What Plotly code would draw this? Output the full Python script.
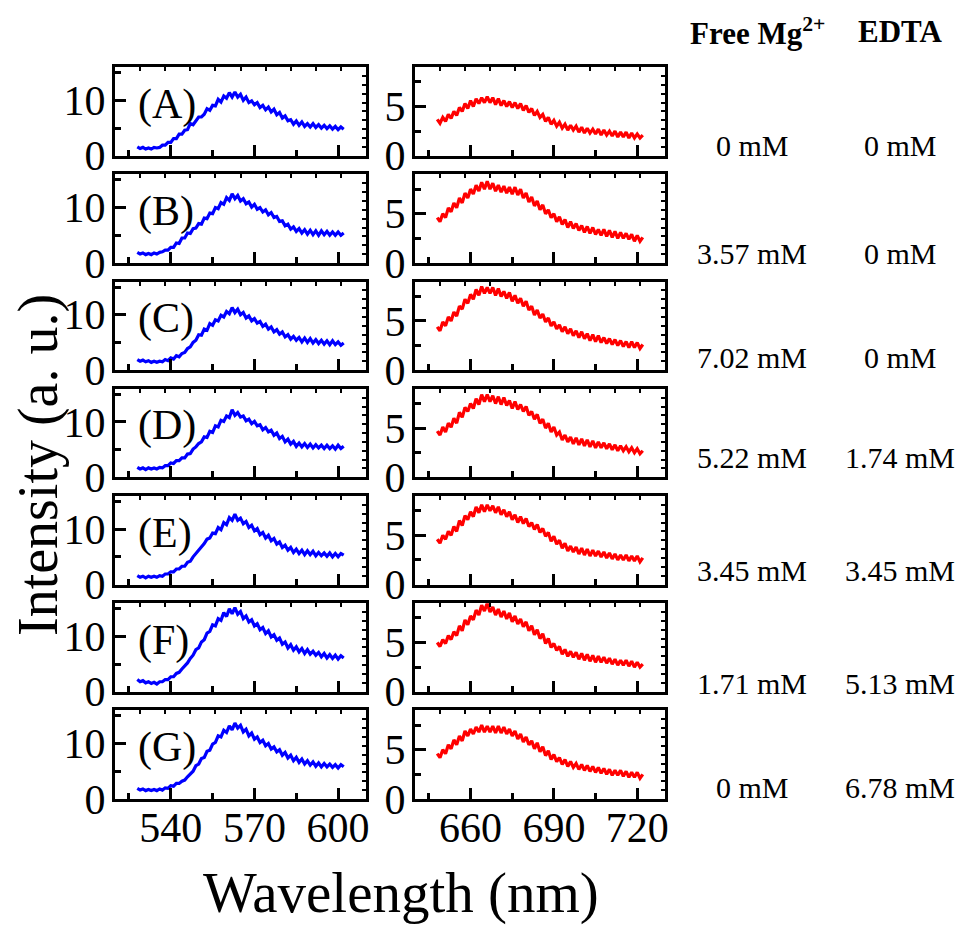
import plotly.graph_objects as go

# ---------------- data ----------------
wl_left = list(range(528, 603))   # nm, left column (blue)
wl_right = list(range(648, 723))  # nm, right column (red)

panel_labels = ["(A)", "(B)", "(C)", "(D)", "(E)", "(F)", "(G)"]
free_mg = ["0 mM", "3.57 mM", "7.02 mM", "5.22 mM", "3.45 mM", "1.71 mM", "0 mM"]
edta = ["0 mM", "0 mM", "0 mM", "1.74 mM", "3.45 mM", "5.13 mM", "6.78 mM"]

blue_A = [1.6, 1.3, 1.5, 1.2, 1.4, 1.2, 1.5, 1.4, 1.5, 1.9, 1.9, 2.4, 2.4, 3.1, 3.1, 3.9, 3.9, 4.6, 4.7, 5.8,
          5.6, 6.3, 7.0, 7.0, 7.5, 8.5, 8.2, 9.1, 9.0, 10.2, 9.7, 10.8, 10.4, 11.4, 10.6, 11.5, 10.6, 11.1, 10.0, 10.6,
          9.6, 9.9, 9.2, 9.6, 8.7, 9.1, 8.3, 8.8, 7.9, 8.4, 7.4, 7.8, 6.8, 7.2, 6.3, 6.5, 5.7, 6.3, 5.5, 6.1,
          5.3, 5.8, 5.2, 5.8, 5.1, 5.6, 5.0, 5.5, 4.9, 5.4, 4.8, 5.3, 4.7, 5.2, 4.8]
blue_B = [1.9, 1.6, 1.8, 1.5, 1.7, 1.5, 1.8, 1.6, 1.9, 2.0, 2.3, 2.3, 2.8, 2.8, 3.6, 3.5, 4.5, 4.5, 5.4, 5.3,
          6.2, 6.3, 7.1, 7.0, 8.1, 8.0, 9.0, 8.9, 10.0, 9.8, 10.9, 10.6, 11.8, 11.3, 12.5, 11.6, 12.2, 11.2, 11.6, 10.7,
          11.0, 10.1, 10.6, 9.7, 10.0, 9.2, 9.6, 8.7, 9.1, 8.2, 8.4, 7.5, 7.6, 6.7, 7.0, 6.1, 6.5, 5.7, 6.2, 5.4,
          6.0, 5.2, 5.9, 5.1, 5.8, 5.0, 5.8, 5.1, 5.7, 5.0, 5.6, 5.0, 5.6, 5.0, 5.4]
blue_C = [1.9, 1.6, 1.8, 1.5, 1.7, 1.4, 1.6, 1.4, 1.6, 1.5, 1.9, 1.7, 2.2, 2.0, 2.6, 2.4, 3.0, 3.2, 3.9, 4.2,
          5.0, 5.4, 6.4, 6.3, 7.4, 7.2, 8.4, 8.1, 9.1, 8.9, 9.9, 9.6, 10.6, 10.2, 11.3, 10.4, 11.0, 10.0, 10.4, 9.4,
          9.8, 8.9, 9.3, 8.5, 8.8, 7.9, 8.3, 7.4, 7.8, 6.9, 7.3, 6.5, 6.9, 6.0, 6.4, 5.6, 6.1, 5.4, 5.9, 5.1,
          5.8, 5.0, 5.7, 4.9, 5.5, 4.8, 5.4, 4.7, 5.3, 4.6, 5.3, 4.6, 5.1, 4.5, 4.9]
blue_D = [1.8, 1.5, 1.7, 1.4, 1.7, 1.5, 1.7, 1.5, 1.8, 1.7, 2.1, 2.1, 2.6, 2.5, 3.0, 3.0, 3.5, 3.5, 4.2, 4.3,
          5.1, 5.5, 6.1, 6.4, 7.3, 7.2, 8.3, 8.1, 9.3, 9.1, 10.3, 10.1, 11.1, 10.8, 12.2, 11.2, 11.7, 10.9, 11.1, 10.2,
          10.5, 9.7, 10.1, 9.3, 9.5, 8.6, 9.0, 8.2, 8.5, 7.6, 8.0, 7.0, 7.4, 6.4, 6.9, 6.0, 6.5, 5.6, 6.2, 5.5,
          6.1, 5.4, 6.0, 5.3, 5.9, 5.3, 5.8, 5.2, 5.8, 5.2, 5.7, 5.1, 5.8, 5.2, 5.6]
blue_E = [1.6, 1.3, 1.5, 1.2, 1.5, 1.3, 1.5, 1.3, 1.6, 1.5, 1.9, 1.9, 2.3, 2.3, 2.8, 2.8, 3.3, 3.3, 4.0, 4.2,
          5.0, 5.6, 6.1, 6.9, 7.4, 8.2, 8.4, 9.3, 9.2, 10.3, 9.9, 11.2, 10.8, 12.1, 11.6, 12.7, 11.6, 12.0, 11.0, 11.4,
          10.3, 10.7, 9.7, 10.1, 9.0, 9.4, 8.4, 8.9, 7.9, 8.3, 7.3, 7.7, 6.7, 7.1, 6.2, 6.7, 5.8, 6.4, 5.6, 6.2,
          5.4, 6.1, 5.4, 6.0, 5.2, 5.8, 5.2, 5.7, 5.1, 5.7, 5.0, 5.6, 5.0, 5.6, 5.3]
blue_F = [2.2, 1.8, 2.0, 1.6, 1.8, 1.5, 1.7, 1.4, 1.8, 1.8, 2.2, 2.2, 2.7, 2.7, 3.3, 3.5, 4.1, 4.6, 5.2, 6.0,
          6.6, 7.6, 7.9, 9.0, 9.4, 10.6, 10.9, 12.1, 11.9, 13.2, 12.9, 14.3, 13.6, 15.0, 14.1, 15.2, 14.0, 14.5, 13.2, 13.7,
          12.6, 13.0, 11.9, 12.3, 11.2, 11.6, 10.5, 11.0, 9.9, 10.3, 9.3, 9.7, 8.6, 9.0, 7.9, 8.5, 7.5, 8.1, 7.2, 7.8,
          6.9, 7.6, 6.8, 7.3, 6.6, 7.1, 6.3, 6.9, 6.1, 6.7, 6.0, 6.6, 5.9, 6.5, 6.1]
blue_G = [1.9, 1.6, 1.8, 1.5, 1.7, 1.5, 1.7, 1.5, 1.8, 1.6, 2.0, 1.9, 2.4, 2.3, 2.8, 2.8, 3.2, 3.4, 4.0, 4.6,
          5.0, 6.0, 6.3, 7.3, 7.5, 8.6, 8.8, 9.9, 10.2, 11.4, 11.2, 12.4, 12.0, 13.2, 12.5, 13.7, 12.8, 13.3, 12.1, 12.6,
          11.4, 11.9, 10.8, 11.2, 10.2, 10.6, 9.6, 10.0, 9.0, 9.4, 8.5, 8.9, 7.9, 8.4, 7.4, 7.9, 6.9, 7.5, 6.6, 7.2,
          6.3, 6.9, 6.1, 6.7, 5.9, 6.5, 5.8, 6.4, 5.8, 6.3, 5.7, 6.2, 5.6, 6.2, 5.8]

red_A = [3.7, 3.3, 3.9, 3.5, 4.2, 3.8, 4.5, 4.1, 4.9, 4.5, 5.3, 4.8, 5.6, 5.0, 5.8, 5.3, 5.9, 5.4, 6.0, 5.4,
         5.9, 5.2, 5.8, 5.1, 5.6, 5.0, 5.5, 4.9, 5.4, 4.8, 5.3, 4.6, 5.1, 4.4, 4.8, 4.1, 4.5, 3.9, 4.2, 3.5,
         3.9, 3.2, 3.6, 3.0, 3.4, 2.8, 3.2, 2.6, 3.1, 2.6, 3.0, 2.4, 2.9, 2.3, 2.8, 2.3, 2.7, 2.2, 2.7, 2.1,
         2.6, 2.1, 2.5, 2.0, 2.5, 1.9, 2.4, 1.9, 2.4, 1.8, 2.3, 1.8, 2.2, 1.8, 2.1]
red_B = [4.6, 4.2, 5.0, 4.6, 5.6, 5.2, 6.1, 5.6, 6.6, 6.1, 7.1, 6.6, 7.5, 7.0, 7.9, 7.3, 8.2, 7.5, 8.3, 7.5,
         8.1, 7.3, 7.9, 7.2, 7.8, 7.1, 7.7, 7.0, 7.7, 6.9, 7.5, 6.6, 7.1, 6.2, 6.7, 5.8, 6.3, 5.4, 5.9, 5.0,
         5.4, 4.6, 5.0, 4.2, 4.7, 3.9, 4.4, 3.6, 4.2, 3.5, 4.0, 3.3, 3.8, 3.1, 3.7, 3.0, 3.6, 2.9, 3.4, 2.8,
         3.4, 2.7, 3.3, 2.6, 3.2, 2.5, 3.1, 2.5, 3.0, 2.4, 2.9, 2.2, 2.8, 2.2, 2.6]
red_C = [4.4, 4.0, 4.9, 4.5, 5.4, 5.0, 5.9, 5.5, 6.5, 6.2, 7.2, 6.8, 7.7, 7.2, 8.2, 7.6, 8.5, 7.8, 8.4, 7.8,
         8.4, 7.6, 8.3, 7.5, 8.0, 7.3, 7.9, 7.0, 7.6, 6.8, 7.3, 6.5, 7.0, 6.1, 6.5, 5.6, 6.1, 5.3, 5.7, 4.9,
         5.3, 4.5, 4.9, 4.2, 4.6, 3.9, 4.4, 3.7, 4.2, 3.5, 4.0, 3.3, 3.9, 3.2, 3.7, 3.0, 3.6, 2.9, 3.5, 2.8,
         3.3, 2.7, 3.2, 2.6, 3.1, 2.5, 3.0, 2.4, 2.9, 2.3, 2.9, 2.3, 2.8, 2.2, 2.6]
red_D = [4.7, 4.3, 5.1, 4.6, 5.5, 5.1, 6.0, 5.5, 6.6, 6.1, 7.1, 6.7, 7.5, 7.0, 8.0, 7.4, 8.4, 7.7, 8.4, 7.7,
         8.3, 7.5, 8.2, 7.4, 8.1, 7.3, 7.8, 7.0, 7.7, 6.9, 7.4, 6.7, 7.2, 6.3, 6.7, 5.9, 6.4, 5.5, 5.9, 5.0,
         5.5, 4.6, 5.1, 4.3, 4.6, 3.8, 4.3, 3.6, 4.1, 3.4, 4.0, 3.3, 3.9, 3.2, 3.8, 3.1, 3.7, 3.0, 3.6, 3.0,
         3.5, 2.9, 3.4, 2.8, 3.3, 2.7, 3.2, 2.7, 3.1, 2.6, 3.0, 2.5, 2.9, 2.4, 2.7]
red_E = [4.6, 4.2, 5.0, 4.6, 5.4, 5.0, 5.9, 5.4, 6.5, 6.0, 7.0, 6.6, 7.4, 6.9, 7.9, 7.3, 8.1, 7.4, 8.1, 7.5,
         8.0, 7.3, 7.9, 7.1, 7.6, 6.9, 7.4, 6.6, 7.1, 6.3, 6.9, 6.2, 6.7, 5.9, 6.3, 5.6, 6.1, 5.3, 5.7, 4.9,
         5.3, 4.4, 4.9, 4.1, 4.5, 3.7, 4.2, 3.4, 3.9, 3.3, 3.8, 3.1, 3.7, 3.0, 3.6, 2.9, 3.5, 2.9, 3.4, 2.8,
         3.3, 2.7, 3.2, 2.6, 3.1, 2.5, 3.0, 2.5, 3.0, 2.4, 2.9, 2.4, 2.9, 2.3, 2.7]
red_F = [5.0, 4.6, 5.3, 4.9, 5.7, 5.3, 6.1, 5.7, 6.7, 6.2, 7.3, 6.8, 7.7, 7.3, 8.3, 7.8, 8.8, 8.2, 9.0, 8.1,
         8.6, 7.8, 8.4, 7.6, 8.2, 7.4, 8.0, 7.1, 7.7, 6.9, 7.4, 6.6, 7.1, 6.2, 6.7, 5.8, 6.3, 5.4, 5.9, 4.9,
         5.4, 4.5, 4.9, 4.2, 4.6, 3.8, 4.3, 3.6, 4.1, 3.5, 4.0, 3.3, 3.9, 3.2, 3.8, 3.1, 3.7, 3.0, 3.6, 3.0,
         3.5, 2.9, 3.4, 2.8, 3.3, 2.7, 3.2, 2.7, 3.2, 2.6, 3.1, 2.5, 3.0, 2.5, 2.8]
red_G = [4.6, 4.2, 5.0, 4.6, 5.5, 5.1, 6.0, 5.5, 6.4, 5.9, 6.9, 6.4, 7.1, 6.6, 7.3, 6.8, 7.5, 6.8, 7.4, 6.8,
         7.4, 6.7, 7.4, 6.7, 7.3, 6.6, 7.1, 6.4, 6.9, 6.1, 6.6, 5.8, 6.3, 5.5, 5.9, 5.1, 5.7, 4.8, 5.3, 4.4,
         4.9, 4.0, 4.5, 3.8, 4.2, 3.5, 4.0, 3.3, 3.8, 3.2, 3.6, 3.0, 3.5, 2.9, 3.4, 2.8, 3.3, 2.7, 3.2, 2.6,
         3.1, 2.5, 3.0, 2.4, 2.9, 2.4, 2.9, 2.3, 2.8, 2.2, 2.7, 2.2, 2.7, 2.1, 2.5]

blue_series = [blue_A, blue_B, blue_C, blue_D, blue_E, blue_F, blue_G]
red_series = [red_A, red_B, red_C, red_D, red_E, red_F, red_G]

# ---------------- layout helpers ----------------
PAGE_W, PAGE_H = 964, 935
OFF = 8                      # default page body margin in the browser
W, H = PAGE_W - 2 * OFF, PAGE_H - 2 * OFF
FONT = "Liberation Serif, Times New Roman, serif"


def fx(p):
    return (p - OFF) / W


def fy(p):
    return 1 - (p - OFF) / H


def sfx(n):
    return "" if n == 1 else str(n)


left_px = (115, 366)
right_px = (415, 665)
bottoms = [155.7 + 107.2 * i for i in range(7)]
tops = [b - 88.5 for b in bottoms]

fig = go.Figure()
layout = {}
NP = 14

for i in range(7):
    for col in range(2):
        n = 2 * i + col + 1
        m = n + NP
        if col == 0:
            xr, yr, xs, ys = left_px, [0, 16], wl_left, blue_series[i]
            xrange_, x0top, ydt, ymin_dt, yrt = [520, 610], 520, 10, 5, 1.6
            color = "#0000ff"
        else:
            xr, yr, xs, ys = right_px, [0, 9], wl_right, red_series[i]
            xrange_, x0top, ydt, ymin_dt, yrt = [640, 730], 640, 5, 2.5, 0.9
            color = "#ff0000"
        fig.add_trace(go.Scatter(x=xs, y=ys, mode="lines",
                                 line=dict(color=color, width=3.2),
                                 xaxis="x" + sfx(n), yaxis="y" + sfx(n),
                                 showlegend=False, hoverinfo="skip"))
        fig.add_trace(go.Scatter(x=[None], y=[None], mode="lines",
                                 xaxis="x" + sfx(m), yaxis="y" + sfx(m),
                                 showlegend=False, hoverinfo="skip"))
        layout["xaxis" + sfx(n)] = dict(
            domain=[fx(xr[0]), fx(xr[1])], range=xrange_, anchor="y" + sfx(n),
            showline=True, linecolor="black", linewidth=3, mirror=True,
            ticks="inside", ticklen=11, tickwidth=3, tickcolor="black",
            tickmode="linear", tick0=0, dtick=30,
            minor=dict(ticks="inside", ticklen=6, tickwidth=2.5, tickcolor="black",
                       tickmode="linear", tick0=0, dtick=15),
            showgrid=False, zeroline=False, showticklabels=(i == 6),
            ticklabelstandoff=-10,
            tickfont=dict(family=FONT, size=42, color="black"),
        )
        layout["yaxis" + sfx(n)] = dict(
            domain=[fy(bottoms[i]), fy(tops[i])], range=yr, anchor="x" + sfx(n),
            showline=True, linecolor="black", linewidth=3, mirror=True,
            ticks="inside", ticklen=11, tickwidth=3, tickcolor="black",
            tickmode="linear", tick0=0, dtick=ydt,
            minor=dict(ticks="inside", ticklen=6, tickwidth=2.5, tickcolor="black",
                       tickmode="linear", tick0=0, dtick=ymin_dt),
            showgrid=False, zeroline=False, showticklabels=True,
            ticklabelstandoff=-2,
            tickfont=dict(family=FONT, size=42, color="black"),
        )
        layout["xaxis" + sfx(m)] = dict(
            overlaying="x" + sfx(n), side="top", anchor="y" + sfx(m), range=xrange_,
            tickmode="linear", tick0=x0top, dtick=9, ticks="inside", ticklen=4,
            tickwidth=2, tickcolor="black", showticklabels=False, showline=False,
            showgrid=False, zeroline=False,
        )
        layout["yaxis" + sfx(m)] = dict(
            overlaying="y" + sfx(n), side="right", anchor="x" + sfx(m), range=yr,
            tickmode="linear", tick0=0, dtick=yrt, ticks="inside", ticklen=4,
            tickwidth=2, tickcolor="black", showticklabels=False, showline=False,
            showgrid=False, zeroline=False,
        )

annotations = []
label_y = [t + 37 for t in tops]
for i, lab in enumerate(panel_labels):
    annotations.append(dict(text=lab, x=fx(136), y=fy(label_y[i]), xref="paper", yref="paper",
                            xanchor="left", yanchor="middle", showarrow=False,
                            font=dict(family=FONT, size=42, color="black")))

value_y = [145, 253, 357, 457, 570, 683, 787]
for i in range(7):
    annotations.append(dict(text=free_mg[i], x=fx(752), y=fy(value_y[i]), xref="paper", yref="paper",
                            xanchor="center", yanchor="middle", showarrow=False,
                            font=dict(family=FONT, size=30, color="black")))
    annotations.append(dict(text=edta[i], x=fx(900), y=fy(value_y[i]), xref="paper", yref="paper",
                            xanchor="center", yanchor="middle", showarrow=False,
                            font=dict(family=FONT, size=30, color="black")))

annotations.append(dict(text="<b>Free Mg<sup>2+</sup></b>", x=fx(757), y=fy(32), xref="paper", yref="paper",
                        xanchor="center", yanchor="middle", showarrow=False,
                        font=dict(family=FONT, size=31, color="black")))
annotations.append(dict(text="<b>EDTA</b>", x=fx(900), y=fy(32), xref="paper", yref="paper",
                        xanchor="center", yanchor="middle", showarrow=False,
                        font=dict(family=FONT, size=31, color="black")))

annotations.append(dict(text="Wavelength (nm)", x=fx(401), y=fy(893), xref="paper", yref="paper",
                        xanchor="center", yanchor="middle", showarrow=False,
                        font=dict(family=FONT, size=57, color="black")))
annotations.append(dict(text="Intensity (a. u.)", x=fx(38), y=fy(465), xref="paper", yref="paper",
                        xanchor="center", yanchor="middle", showarrow=False, textangle=-90,
                        font=dict(family=FONT, size=56, color="black")))

fig.update_layout(
    width=W, height=H,
    margin=dict(l=0, r=0, t=0, b=0, pad=0, autoexpand=False),
    paper_bgcolor="white", plot_bgcolor="white",
    font=dict(family=FONT, color="black"),
    annotations=annotations,
    showlegend=False,
    **layout,
)

fig.write_html("out.html")
